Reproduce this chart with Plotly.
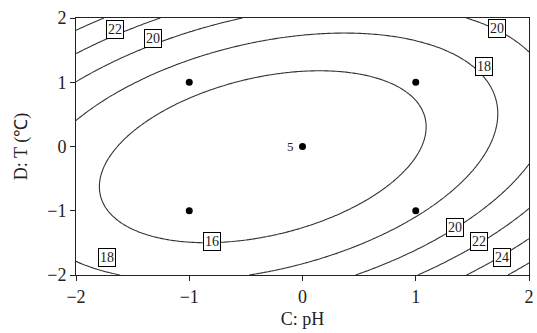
import numpy as np
import plotly.graph_objects as go

# Quadratic response-surface model (fitted to the drawn contour lines)
# y = b0 + b1*C + b2*D + b11*C^2 + b22*D^2 + b12*C*D
model_terms = ["b0", "C", "D", "C^2", "D^2", "C*D"]
model_coef = [14.243, 0.595, 0.110, 1.022, 1.188, -0.766]

contour_levels = [16, 18, 20, 22, 24, 26]

# design points (coded)
design_x = [-1, -1, 1, 1, 0]
design_y = [-1, 1, -1, 1, 0]
center_reps = "5"

# contour label boxes as drawn in the picture
label_text = ["22", "20", "20", "18", "16", "18", "20", "22", "24"]
label_x = [-1.66, -1.32, 1.72, 1.60, -0.80, -1.73, 1.35, 1.56, 1.76]
label_y = [1.82, 1.68, 1.83, 1.24, -1.48, -1.73, -1.26, -1.48, -1.73]

tick_vals = [-2, -1, 0, 1, 2]

gx = np.linspace(-2, 2, 161)
gy = np.linspace(-2, 2, 161)
GX, GY = np.meshgrid(gx, gy)
b0, b1, b2, b11, b22, b12 = model_coef
Z = b0 + b1*GX + b2*GY + b11*GX**2 + b22*GY**2 + b12*GX*GY

font = "Liberation Serif, Times New Roman, serif"
fig = go.Figure()
fig.add_trace(go.Contour(x=gx, y=gy, z=Z,
                         contours=dict(start=contour_levels[0], end=contour_levels[-1],
                                       size=contour_levels[1] - contour_levels[0], coloring="none"),
                         line=dict(color="#333", width=1.1), showscale=False, hoverinfo="skip"))
fig.add_trace(go.Scatter(x=design_x, y=design_y, mode="markers",
                         marker=dict(color="black", size=7, symbol="circle"), showlegend=False))
for t, x, y in zip(label_text, label_x, label_y):
    fig.add_annotation(x=x, y=y, text=t, showarrow=False, bgcolor="white", bordercolor="black",
                       borderwidth=1, borderpad=1, font=dict(family=font, size=14, color="#222"))
fig.add_annotation(x=design_x[-1], y=design_y[-1], text=center_reps, showarrow=False, xshift=-12,
                   font=dict(family=font, size=13, color="#222"))
fig.update_layout(width=537, height=333, margin=dict(l=76, r=3, t=18, b=58),
                  plot_bgcolor="white", paper_bgcolor="white", showlegend=False,
                  font=dict(family=font, size=18, color="#222"))
axis = dict(range=[-2, 2], tickvals=tick_vals, showline=True, mirror=True, linecolor="#222",
            linewidth=1, ticks="outside", ticklen=5, tickcolor="#222", showgrid=False, zeroline=False,
            ticklabeloverflow="allow", tickfont=dict(family=font, size=18))
fig.update_xaxes(**axis, title=dict(text="C: pH", font=dict(family=font, size=18), standoff=6))
fig.update_yaxes(**axis, title=dict(text="D: T (℃)", font=dict(family=font, size=18), standoff=14))
fig.write_html("out.html")
